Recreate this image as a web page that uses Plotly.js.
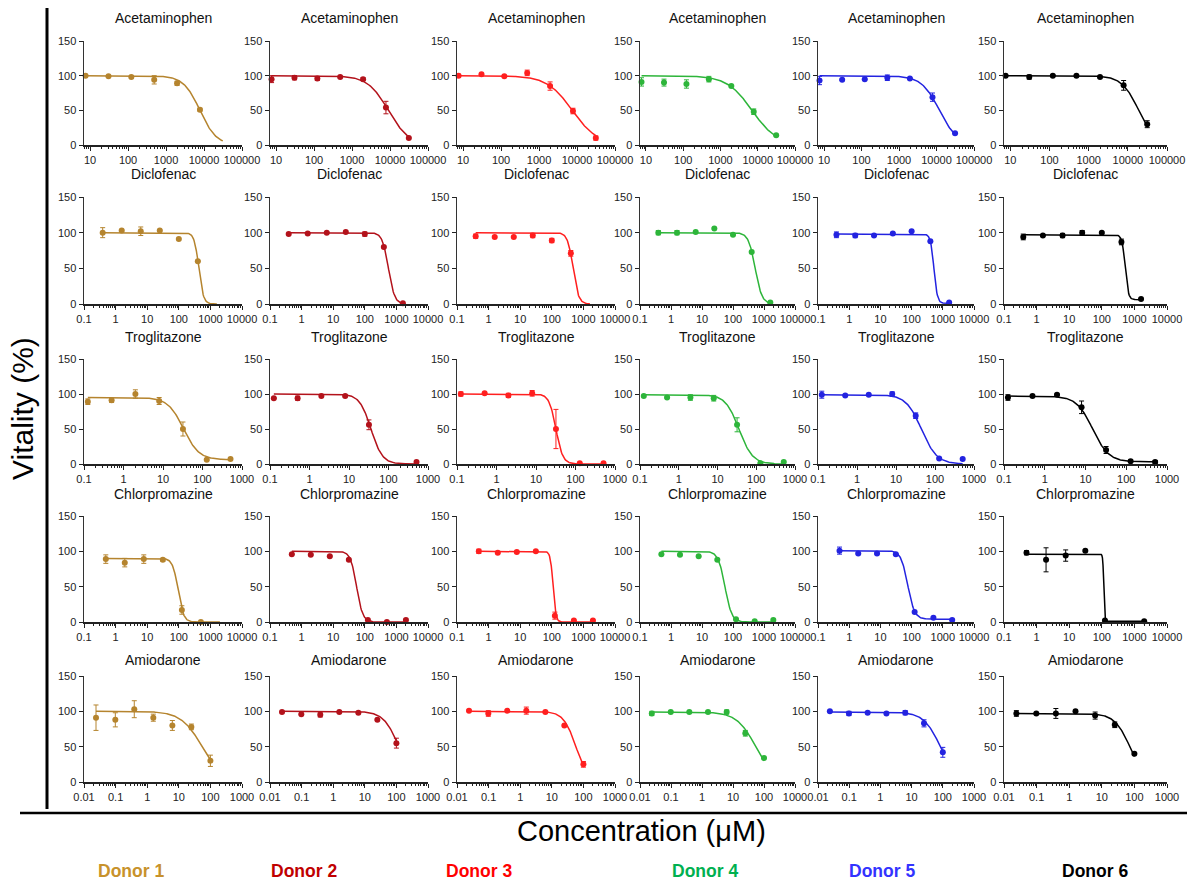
<!DOCTYPE html>
<html>
<head>
<meta charset="utf-8">
<script src="https://cdn.plot.ly/plotly-3.0.1.min.js"></script>
<style>
  html, body { margin: 0; padding: 0; background: #fff; }
  #chart { width: 1201px; height: 885px; }
</style>
</head>
<body>
<div id="chart"></div>
<script>
// ---- donors and drugs ----
const donors = ['Donor 1', 'Donor 2', 'Donor 3', 'Donor 4', 'Donor 5', 'Donor 6'];
const donorColors = ['#B5842E', '#B3121B', '#FF1F1F', '#2DB53A', '#2323E0', '#000000'];
const donorLabelColors = ['#C8922B', '#C00000', '#FF0000', '#00B050', '#3333FF', '#000000'];
const drugs = ['Acetaminophen', 'Diclofenac', 'Troglitazone', 'Chlorpromazine', 'Amiodarone'];

// ---- concentrations (µM) ----
const concAcetaminophen = [7.6, 30.5, 122, 488, 1953, 7812, 31250];
const concDiclofenac = [0.39, 1.56, 6.25, 25, 100, 400, 1600];
const concTroglitazone = [0.125, 0.5, 2, 8, 32, 128, 512];
const concChlorpromazine = [0.49, 1.95, 7.8, 31.25, 125, 500, 2000];
const concAmiodarone = [0.024, 0.098, 0.39, 1.56, 6.25, 25, 100];

// ---- vitality (%) per donor, mean and error ----
const vitAcetaminophen = [
  [100, 99, 98, 94, 89, 51, null],
  [95, 97, 96, 98, 95, 54, 10],
  [100, 102, 99, 104, 85, 49, 10],
  [91, 90, 88, 95, 85, 48, 14],
  [93, 94, 95, 97, 96, 69, 17],
  [100, 98, 100, 100, 98, 86, 30]
];
const errAcetaminophen = [
  [1, 1, 1, 6, 3, 2, 0],
  [5, 3, 3, 1, 2, 9, 1],
  [2, 1, 1, 4, 6, 4, 3],
  [6, 5, 6, 4, 1, 4, 1],
  [6, 1, 1, 4, 1, 6, 1],
  [1, 3, 1, 1, 1, 7, 5]
];
const vitDiclofenac = [
  [100, 103, 102, 103, 91, 60, null],
  [98, 99, 100, 101, 98, 80, 1],
  [95, 94, 94, 96, 89, 71, null],
  [100, 100, 101, 106, 97, 73, 2],
  [97, 96, 96, 99, 102, 88, 2],
  [94, 96, 96, 100, 100, 87, 7]
];
const errDiclofenac = [
  [7, 1, 6, 1, 1, 1, 0],
  [1, 1, 1, 1, 3, 1, 0],
  [3, 1, 1, 3, 3, 4, 0],
  [3, 3, 1, 1, 1, 1, 1],
  [4, 3, 1, 1, 1, 1, 1],
  [4, 1, 3, 3, 1, 4, 1]
];
const vitTroglitazone = [
  [89, 91, 100, 90, 50, 6, 7],
  [94, 94, 97, 97, 56, null, 3],
  [100, 101, 98, 101, 50, 1, 1],
  [97, 95, 95, 94, 56, 1, 3],
  [99, 98, 99, 100, 69, 8, 7],
  [95, 97, 99, 81, 20, 4, 3]
];
const errTroglitazone = [
  [4, 3, 6, 5, 10, 1, 1],
  [1, 3, 1, 1, 7, 0, 1],
  [3, 1, 3, 4, 28, 1, 1],
  [1, 1, 4, 4, 10, 1, 1],
  [5, 1, 1, 3, 4, 1, 1],
  [4, 1, 1, 9, 5, 2, 2]
];
const vitChlorpromazine = [
  [89, 84, 89, 88, 17, 0, null],
  [96, 95, 93, 88, 3, 0, 3],
  [100, 98, 99, 100, 9, 2, 2],
  [96, 95, 93, 88, 4, 1, 3],
  [101, 97, 97, 96, 14, 6, 3],
  [98, 88, 94, 101, 2, null, 1]
];
const errChlorpromazine = [
  [6, 6, 6, 2, 6, 1, 0],
  [1, 1, 1, 1, 1, 1, 1],
  [3, 1, 1, 1, 5, 1, 1],
  [1, 1, 1, 1, 1, 1, 1],
  [5, 1, 1, 1, 1, 1, 1],
  [3, 17, 8, 1, 1, 0, 1]
];
const vitAmiodarone = [
  [91, 88, 103, 91, 80, 78, 30],
  [99, 96, 95, 99, 98, 88, 55],
  [101, 97, 101, 101, 99, 80, 25],
  [97, 99, 99, 99, 99, 69, 34],
  [100, 97, 98, 97, 98, 83, 42],
  [97, 97, 97, 100, 94, 81, 40]
];
const errAmiodarone = [
  [18, 10, 12, 5, 7, 4, 8],
  [1, 1, 3, 1, 1, 1, 7],
  [1, 4, 1, 5, 1, 1, 4],
  [3, 1, 1, 1, 3, 4, 1],
  [1, 3, 1, 1, 3, 5, 7],
  [4, 1, 7, 1, 5, 4, 1]
];

// ---- four-parameter logistic fits: [top, bottom, IC50 (µM), Hill slope] ----
const fitAcetaminophen = [
  [100, 0, 7800, 2], [100, 0, 9000, 1.6], [100, 0, 7500, 1.3],
  [100, 0, 7000, 1.3], [100, 0, 12000, 1.8], [100, 0, 19000, 2]
];
const fitDiclofenac = [
  [100, 0, 430, 6], [100, 0, 560, 4.5], [100, 0, 470, 5],
  [100, 0, 520, 4], [98, 1, 520, 8], [97, 6, 520, 9]
];
const fitTroglitazone = [
  [95, 6, 33, 2.2], [100, 0, 36, 3], [100, 0, 32, 5],
  [99, 0, 36, 2.5], [99, 0, 45, 2.2], [97, 3, 15, 2.2]
];
const fitChlorpromazine = [
  [90, 0, 95, 5], [100, 0, 55, 4.5], [100, 0, 110, 10],
  [100, 0, 55, 4], [101, 4, 75, 4], [96, 1, 115, 30]
];
const fitAmiodarone = [
  [100, 0, 55, 1.3], [100, 0, 120, 1.8], [100, 0, 58, 2.2],
  [99, 0, 55, 1.4], [99, 0, 85, 1.6], [97, 0, 75, 1.8]
];

// ---- x-axis ticks per drug ----
const ticksAcetaminophen = [10, 100, 1000, 10000, 100000];
const labelsAcetaminophen = ['10', '100', '1000', '10000', '100000'];
const ticksDiclofenac = [0.1, 1, 10, 100, 1000, 10000];
const labelsDiclofenac = ['0.1', '1', '10', '100', '1000', '10000'];
const ticksTroglitazone = [0.1, 1, 10, 100, 1000];
const labelsTroglitazone = ['0.1', '1', '10', '100', '1000'];
const ticksChlorpromazine = [0.1, 1, 10, 100, 1000, 10000];
const labelsChlorpromazine = ['0.1', '1', '10', '100', '1000', '10000'];
const ticksAmiodarone = [0.01, 0.1, 1, 10, 100, 1000];
const labelsAmiodarone = ['0.01', '0.1', '1', '10', '100', '1000'];
const yTicks = [0, 50, 100, 150];

const drugSets = [
  { conc: concAcetaminophen, vit: vitAcetaminophen, err: errAcetaminophen, fit: fitAcetaminophen,
    ticks: ticksAcetaminophen, labels: labelsAcetaminophen, range: [0.84, 5.0] },
  { conc: concDiclofenac, vit: vitDiclofenac, err: errDiclofenac, fit: fitDiclofenac,
    ticks: ticksDiclofenac, labels: labelsDiclofenac, range: [-1, 4] },
  { conc: concTroglitazone, vit: vitTroglitazone, err: errTroglitazone, fit: fitTroglitazone,
    ticks: ticksTroglitazone, labels: labelsTroglitazone, range: [-1, 3] },
  { conc: concChlorpromazine, vit: vitChlorpromazine, err: errChlorpromazine, fit: fitChlorpromazine,
    ticks: ticksChlorpromazine, labels: labelsChlorpromazine, range: [-1, 4] },
  { conc: concAmiodarone, vit: vitAmiodarone, err: errAmiodarone, fit: fitAmiodarone,
    ticks: ticksAmiodarone, labels: labelsAmiodarone, range: [-2, 3] }
];

// ---- grid geometry (pixels) ----
const W = 1201, H = 885;
const colSpans = [[84, 242], [270, 428], [457, 615], [640, 795], [818, 974], [1004, 1167]];
const rowSpans = [[41, 145], [197, 304], [359, 464], [516, 622], [676, 782]];
const titleY = [18, 174, 337, 494, 660];
const px = v => v / W;
const py = v => 1 - v / H;

const FONT = 'Liberation Sans, Arial, Helvetica, sans-serif';
const traces = [];
const layout = {
  width: W, height: H,
  margin: { l: 0, r: 0, t: 0, b: 0 },
  paper_bgcolor: '#ffffff', plot_bgcolor: 'rgba(0,0,0,0)',
  showlegend: false,
  font: { family: FONT, size: 11, color: '#222' },
  annotations: [], shapes: []
};

function minorTicks(range) {
  const out = [];
  for (let d = Math.floor(range[0]); d <= Math.ceil(range[1]); d++) {
    for (let m = 2; m <= 9; m++) {
      const v = m * Math.pow(10, d);
      const lv = Math.log10(v);
      if (lv > range[0] && lv < range[1]) out.push(v);
    }
  }
  return out;
}

function logistic(x, p) {
  return p[1] + (p[0] - p[1]) / (1 + Math.pow(x / p[2], p[3]));
}

drugSets.forEach((set, r) => {
  for (let c = 0; c < 6; c++) {
    const i = r * 6 + c;
    const xid = i === 0 ? 'x' : 'x' + (i + 1);
    const yid = i === 0 ? 'y' : 'y' + (i + 1);
    const xKey = i === 0 ? 'xaxis' : 'xaxis' + (i + 1);
    const yKey = i === 0 ? 'yaxis' : 'yaxis' + (i + 1);
    const color = donorColors[c];

    // fitted curve over the tested concentration span
    const lo = Math.log10(set.conc[0]), hi = Math.log10(set.conc[set.conc.length - 1]);
    const cx = [], cy = [];
    for (let k = 0; k <= 200; k++) {
      const x = Math.pow(10, lo + (hi - lo) * k / 200);
      cx.push(x); cy.push(logistic(x, set.fit[c]));
    }
    traces.push({
      x: cx, y: cy, xaxis: xid, yaxis: yid, type: 'scatter', mode: 'lines',
      line: { color: color, width: 1.5 }, hoverinfo: 'skip', cliponaxis: false
    });

    // measured means with error bars
    traces.push({
      x: set.conc, y: set.vit[c], xaxis: xid, yaxis: yid, type: 'scatter', mode: 'markers',
      marker: { color: color, size: 6 }, cliponaxis: false, name: donors[c],
      error_y: { type: 'data', array: set.err[c], visible: true, color: color, thickness: 1, width: 2.5 }
    });

    const xd = [px(colSpans[c][0]), px(colSpans[c][1])];
    const yd = [py(rowSpans[r][1]), py(rowSpans[r][0])];
    layout[xKey] = {
      domain: xd, anchor: yid, type: 'log', range: set.range,
      tickmode: 'array', tickvals: set.ticks, ticktext: set.labels,
      ticks: 'outside', ticklen: 4, tickwidth: 1, tickcolor: '#222',
      minor: { tickmode: 'array', tickvals: minorTicks(set.range), ticks: 'outside', ticklen: 2, tickwidth: 1, tickcolor: '#222', showgrid: false },
      showline: true, linecolor: '#222', linewidth: 1.5, showgrid: false, zeroline: false,
      tickfont: { family: FONT, size: 11, color: '#222' }, fixedrange: true
    };
    layout[yKey] = {
      domain: yd, anchor: xid, range: [0, 150],
      tickmode: 'array', tickvals: yTicks,
      ticks: 'outside', ticklen: 4, tickwidth: 1, tickcolor: '#222',
      showline: true, linecolor: '#333', linewidth: 1.5, showgrid: false, zeroline: false,
      tickfont: { family: FONT, size: 11, color: '#222' }, fixedrange: true
    };

    layout.annotations.push({
      text: drugs[r], xref: 'paper', yref: 'paper',
      x: (xd[0] + xd[1]) / 2, y: py(titleY[r]), xanchor: 'center', yanchor: 'middle',
      showarrow: false, font: { family: FONT, size: 14, color: '#111' }
    });
  }
});

// frame lines
layout.shapes.push({ type: 'line', xref: 'paper', yref: 'paper',
  x0: px(47), x1: px(47), y0: py(8), y1: py(809), line: { color: '#000', width: 3 } });
layout.shapes.push({ type: 'line', xref: 'paper', yref: 'paper',
  x0: px(20), x1: px(1187), y0: py(813), y1: py(813), line: { color: '#000', width: 2.5 } });

// shared axis titles
layout.annotations.push({
  text: 'Vitality (%)', xref: 'paper', yref: 'paper', x: px(22), y: py(409),
  xanchor: 'center', yanchor: 'middle', textangle: -90, showarrow: false,
  font: { family: FONT, size: 30, color: '#000' }
});
layout.annotations.push({
  text: 'Concentration (μM)', xref: 'paper', yref: 'paper', x: px(641), y: py(831),
  xanchor: 'center', yanchor: 'middle', showarrow: false,
  font: { family: FONT, size: 29, color: '#000' }
});

// donor key
const donorKeyX = [131, 304, 479, 705, 882, 1095];
donors.forEach((d, k) => {
  layout.annotations.push({
    text: '<b>' + d + '</b>', xref: 'paper', yref: 'paper', x: px(donorKeyX[k]), y: py(871),
    xanchor: 'center', yanchor: 'middle', showarrow: false,
    font: { family: FONT, size: 17.5, color: donorLabelColors[k] }
  });
});

Plotly.newPlot('chart', traces, layout, { displayModeBar: false, staticPlot: true });
</script>
</body>
</html>
